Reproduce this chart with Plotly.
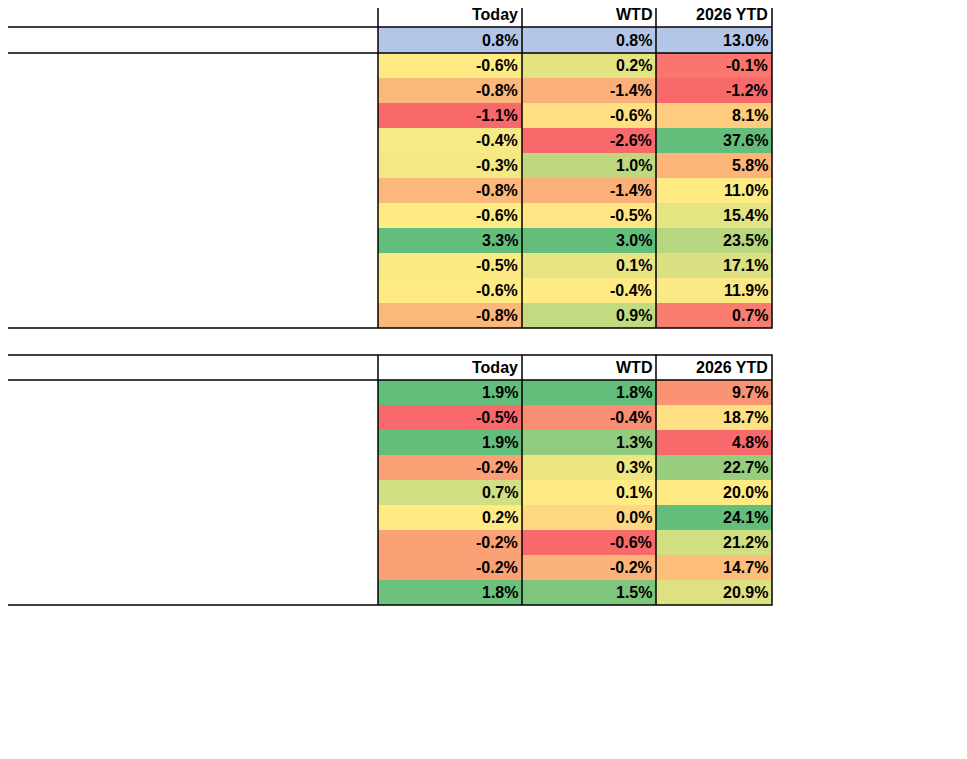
import numpy as np
import plotly.graph_objects as go

# ---- data ----
sector_headers = ["EQUITY - U.S. SECTORS", "Today", "WTD", "2026 YTD"]
benchmark = "S&P 500"
benchmark_vals = [0.8, 0.8, 13.0]
sectors = ["Communication Services", "Consumer Discretionary", "Consumer Staples", "Energy",
           "Financials", "Healthcare", "Industrials", "Information Technology", "Materials",
           "Real Estate", "Utilities"]
sector_today = [-0.6, -0.8, -1.1, -0.4, -0.3, -0.8, -0.6, 3.3, -0.5, -0.6, -0.8]
sector_wtd = [0.2, -1.4, -0.6, -2.6, 1.0, -1.4, -0.5, 3.0, 0.1, -0.4, 0.9]
sector_ytd = [-0.1, -1.2, 8.1, 37.6, 5.8, 11.0, 15.4, 23.5, 17.1, 11.9, 0.7]

factor_headers = ["FACTORS", "Today", "WTD", "2026 YTD"]
factors = ["Mega Cap Growth", "Mega Cap Value", "Large Cap Growth", "Large Cap Value",
           "Small Cap Growth", "Small Cap Value", "Momentum", "High Dividend", "IPO"]
factor_today = [1.9, -0.5, 1.9, -0.2, 0.7, 0.2, -0.2, -0.2, 1.8]
factor_wtd = [1.8, -0.4, 1.3, 0.3, 0.1, 0.0, -0.6, -0.2, 1.5]
factor_ytd = [9.7, 18.7, 4.8, 22.7, 20.0, 24.1, 21.2, 14.7, 20.9]

# ---- layout ----
COL_X = [1, 378, 522, 656, 772]
ROW_H = 25
FONT = dict(family="Liberation Sans", size=16, color="black")
RED, YEL, GRN = np.array([248, 105, 107]), np.array([255, 235, 132]), np.array([99, 190, 123])


def scale_colors(vals):
    # Excel style 3-colour scale, midpoint at 50th percentile
    v = np.array(vals, float)
    lo, mid, hi = v.min(), np.percentile(v, 50), v.max()
    out = []
    for x in v:
        if x <= mid:
            t = 0 if mid == lo else (x - lo) / (mid - lo)
            c = RED + (YEL - RED) * t
        else:
            t = (x - mid) / (hi - mid)
            c = YEL + (GRN - YEL) * t
        out.append("rgb(%d,%d,%d)" % tuple(np.round(c)))
    return out


shapes, annotations = [], []


def cell(x0, x1, y0, y1, fill):
    shapes.append(dict(type="rect", x0=x0, x1=x1, y0=y0, y1=y1, fillcolor=fill,
                       line=dict(width=0), layer="below"))


def text(s, x, y, right=False):
    annotations.append(dict(text=s, x=x, y=y, xanchor="right" if right else "left",
                            yanchor="middle", showarrow=False, font=FONT))


def line(x0, y0, x1, y1, w=1.5):
    shapes.append(dict(type="line", x0=x0, y0=y0, x1=x1, y1=y1, line=dict(color="black", width=w)))


def table(top, headers, labels, cols, bench=None):
    y = top
    for i, h in enumerate(headers):
        if i == 0:
            text("<b>%s</b>" % h, COL_X[0] + 2, y + ROW_H / 2)
        else:
            text("<b>%s</b>" % h, COL_X[i + 1] - 2, y + ROW_H / 2, right=True)
    y += ROW_H
    line(COL_X[0], y, COL_X[-1], y)
    if bench:
        name, vals = bench
        text("<b>%s</b>" % name, COL_X[0] + 2, y + ROW_H / 2 + 1)
        for j, v in enumerate(vals):
            cell(COL_X[j + 1], COL_X[j + 2], y, y + ROW_H + 1, "rgb(180,198,231)")
            text("<b>%.1f%%</b>" % v, COL_X[j + 2] - 2, y + ROW_H / 2 + 1, right=True)
        y += ROW_H + 1
        line(COL_X[0], y, COL_X[-1], y)
    colors = [scale_colors(c) for c in cols]
    for r, lab in enumerate(labels):
        yc = y + r * ROW_H
        text("<b>%s</b>" % lab, COL_X[0] + 2, yc + ROW_H / 2)
        for j, c in enumerate(cols):
            cell(COL_X[j + 1], COL_X[j + 2], yc, yc + ROW_H, colors[j][r])
            text("<b>%.1f%%</b>" % c[r], COL_X[j + 2] - 2, yc + ROW_H / 2, right=True)
    bottom = y + len(labels) * ROW_H
    shapes.append(dict(type="rect", x0=COL_X[0], x1=COL_X[-1], y0=top, y1=bottom,
                       line=dict(color="black", width=1.5)))
    for x in COL_X[1:-1]:
        line(x, top, x, bottom)


table(2, sector_headers, sectors, [sector_today, sector_wtd, sector_ytd],
      bench=(benchmark, benchmark_vals))
table(355, factor_headers, factors, [factor_today, factor_wtd, factor_ytd])

fig = go.Figure()
# page body adds an 8px offset, so shift the view to compensate
fig.update_layout(width=967, height=759, margin=dict(l=0, r=0, t=0, b=0),
                  plot_bgcolor="white", paper_bgcolor="white",
                  xaxis=dict(range=[8, 975], visible=False, fixedrange=True),
                  yaxis=dict(range=[767, 8], visible=False, fixedrange=True),
                  shapes=shapes, annotations=annotations, showlegend=False)
fig.write_html("out.html")
